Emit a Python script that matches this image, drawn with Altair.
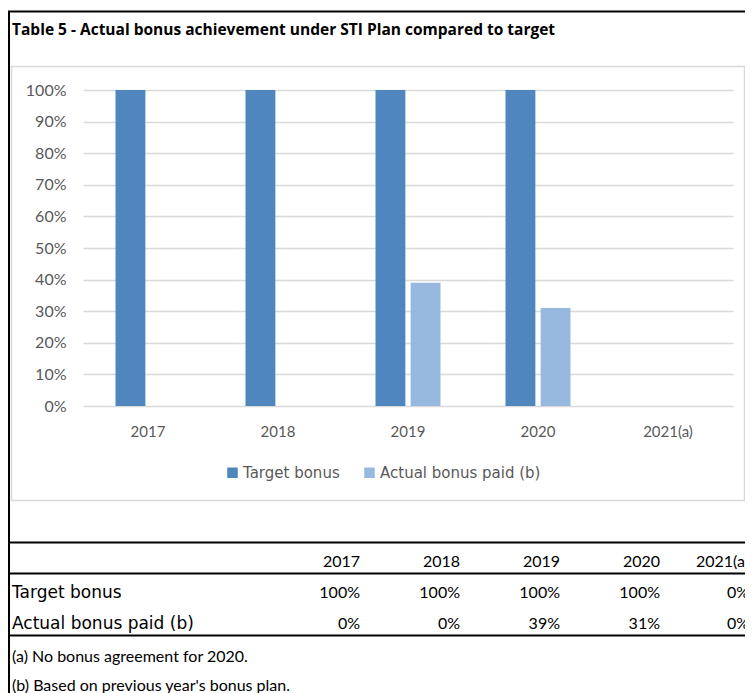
import altair as alt
import pandas as pd

# ---------------- data ----------------
years = ["2017", "2018", "2019", "2020", "2021(a)"]
series = ["Target bonus", "Actual bonus paid (b)"]
target_pct = [100, 100, 100, 100, 0]
actual_pct = [0, 0, 39, 31, 0]
y_ticks = [0, 10, 20, 30, 40, 50, 60, 70, 80, 90, 100]
title_text = "Table 5 - Actual bonus achievement under STI Plan compared to target"
footnotes = ["(a) No bonus agreement for 2020.", "(b) Based on previous year's bonus plan."]

# ---------------- styles ----------------
FONT = "Lato"
WIDE = "DejaVu Sans"
C_TARGET = "#4F86BD"
C_ACTUAL = "#97B9E0"
GRID = "#D9D9D9"
AXIS_TXT = "#595959"
X0, Y0 = 83, 90          # page position of plot origin
PW, PH = 650, 316
RIGHT = 745              # right page edge that can be drawn


def px(x):
    return x - X0


def py(y):
    return y - Y0


bars_df = pd.DataFrame({
    "year": years * 2,
    "series": [series[0]] * len(years) + [series[1]] * len(years),
    "value": [v / 100 for v in target_pct + actual_pct],
})

table_rows = []
for ci, yr in enumerate(years):
    table_rows.append({"col": ci, "row": 0, "label": yr})
    table_rows.append({"col": ci, "row": 1, "label": f"{target_pct[ci]}%"})
    table_rows.append({"col": ci, "row": 2, "label": f"{actual_pct[ci]}%"})
table_df = pd.DataFrame(table_rows)
rowlab_df = pd.DataFrame({"row": [1, 2], "label": series})
foot_df = pd.DataFrame({"row": [0, 1], "label": footnotes})
one = pd.DataFrame({"k": [0]})


# ---------------- decorations ----------------
def hrule(x1, x2, y, color="#000000", w=2):
    return alt.Chart(one).mark_rule(color=color, strokeWidth=w).encode(
        x=alt.value(px(x1)), x2=alt.value(px(x2)), y=alt.value(py(y)))


def vrule(x, y1, y2, color="#000000", w=2):
    return alt.Chart(one).mark_rule(color=color, strokeWidth=w).encode(
        x=alt.value(px(x)), y=alt.value(py(y1)), y2=alt.value(py(y2)))


box = alt.Chart(one).mark_rect(fillOpacity=0, stroke=GRID, strokeWidth=1.5).encode(
    x=alt.value(px(11.5)), x2=alt.value(px(RIGHT - 0.5)),
    y=alt.value(py(66.5)), y2=alt.value(py(500.5)))

title = alt.Chart(pd.DataFrame({"t": [title_text]})).mark_text(
    font="Open Sans", fontSize=15.5, fontWeight="bold", align="left", baseline="alphabetic",
    color="#000000").encode(x=alt.value(px(12)), y=alt.value(py(35)), text="t:N")

# ---------------- bars ----------------
bars = alt.Chart(bars_df).mark_bar().encode(
    x=alt.X("year:N", sort=years,
            scale=alt.Scale(domain=years, paddingInner=0.5, paddingOuter=0.25),
            axis=alt.Axis(title=None, domain=False, ticks=False, tickSize=0,
                          labelPadding=18, labelAngle=0, labelFont=FONT,
                          labelFontSize=15, labelColor=AXIS_TXT, grid=False)),
    xOffset=alt.XOffset("series:N", sort=series,
                        scale=alt.Scale(domain=series, paddingInner=0.15, paddingOuter=0)),
    y=alt.Y("value:Q", scale=alt.Scale(domain=[0, 1], nice=False, zero=True),
            axis=alt.Axis(title=None, values=[t / 100 for t in y_ticks], format=".0%",
                          domain=False, ticks=False, tickSize=0, labelPadding=17,
                          labelFont=FONT, labelFontSize=16, labelColor=AXIS_TXT,
                          gridColor=GRID, gridWidth=1.3)),
    color=alt.Color("series:N", sort=series,
                    scale=alt.Scale(domain=series, range=[C_TARGET, C_ACTUAL]),
                    legend=alt.Legend(orient="none", legendX=142, legendY=375,
                                      direction="horizontal", title=None,
                                      symbolType="square", symbolSize=110,
                                      symbolStrokeWidth=0, labelFont=WIDE,
                                      labelFontSize=15, labelColor=AXIS_TXT,
                                      labelLimit=400, columnPadding=22,
                                      labelOffset=3, padding=0)),
)

# ---------------- table ----------------
row_scale = alt.Scale(domain=[0, 2], range=[py(562), py(624)])
cells = alt.Chart(table_df).mark_text(
    font=FONT, fontSize=16, align="right", baseline="middle", color="#000000").encode(
    x=alt.X("col:Q", scale=alt.Scale(domain=[0, 3, 4], range=[px(360), px(660), px(749)]),
            axis=None),
    y=alt.Y("row:Q", scale=row_scale, axis=None),
    text="label:N")

rowlabs = alt.Chart(rowlab_df).mark_text(
    font=WIDE, fontSize=17, align="left", baseline="middle", color="#000000").encode(
    x=alt.value(px(12)),
    y=alt.Y("row:Q", scale=row_scale, axis=None),
    text="label:N")

foots = alt.Chart(foot_df).mark_text(
    font=FONT, fontSize=16, align="left", baseline="middle", color="#000000").encode(
    x=alt.value(px(12)),
    y=alt.Y("row:Q", scale=alt.Scale(domain=[0, 1], range=[py(657), py(686)]), axis=None),
    text="label:N")

chart = alt.layer(
    box, title, bars, cells, rowlabs, foots,
    hrule(8, RIGHT, 11.5), vrule(9, 11, 693),
    hrule(8, RIGHT, 542.5), hrule(8, RIGHT, 573.5), hrule(8, RIGHT, 635.5),
).resolve_scale(x="independent", y="independent").properties(
    width=PW, height=PH,
    autosize=alt.AutoSizeParams(type="none"),
    padding={"left": X0 - 8, "top": Y0 - 8, "right": RIGHT - 8 - (X0 - 8) - PW,
             "bottom": 685 - (Y0 - 8) - PH},
).configure_view(stroke=None)

chart.save("out.html", embed_options={"renderer": "svg", "actions": False})
